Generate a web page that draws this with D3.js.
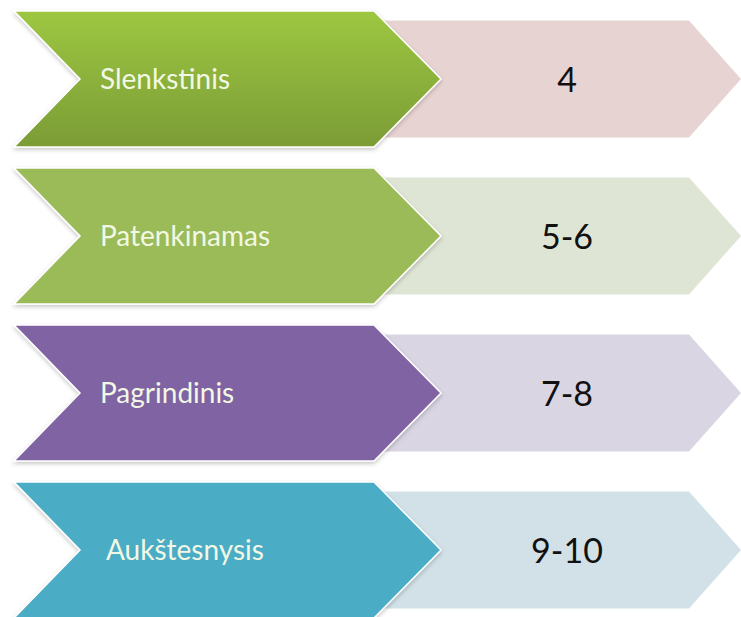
<!DOCTYPE html>
<html>
<head>
<meta charset="utf-8">
<script src="https://cdn.jsdelivr.net/npm/d3@7"></script>
<style>
  html, body { margin: 0; padding: 0; background: #fff; }
  svg { display: block; }
  text { font-family: Lato, 'Open Sans', sans-serif; }
</style>
</head>
<body>
<div id="chart"></div>
<script>
var levels = ['Slenkstinis', 'Patenkinamas', 'Pagrindinis', 'Aukštesnysis']
var grades = ['4', '5-6', '7-8', '9-10']
var darkColors = ['#93bb3d', '#9bbb59', '#8064a2', '#4bacc6']
var lightColors = ['#e8d3d3', '#dfe5d5', '#dad5e3', '#d1e1e7']

var width = 741, height = 617

var svg = d3.select('#chart').append('svg')
  .attr('width', width)
  .attr('height', height)

var defs = svg.append('defs')
var grad = defs.append('linearGradient')
  .attr('id', 'greenGrad')
  .attr('x1', 0).attr('y1', 0).attr('x2', 0).attr('y2', 1)
grad.append('stop').attr('offset', '0%').attr('stop-color', '#9dc741')
grad.append('stop').attr('offset', '100%').attr('stop-color', '#7b9c36')

var shadow = defs.append('filter').attr('id', 'shadow')
  .attr('x', '-5%').attr('y', '-5%').attr('width', '110%').attr('height', '120%')
shadow.append('feDropShadow')
  .attr('dx', 0).attr('dy', 2).attr('stdDeviation', 2)
  .attr('flood-color', '#000').attr('flood-opacity', 0.22)

// row centres
var y = d3.scalePoint().domain(levels).range([79, 550])

// horizontal layout
var darkLeft = 14, darkRight = 374, darkTip = 441, notch = 66, darkHalf = 68
var lightLeft = 380, lightRight = 689, lightTip = 741, lightHalf = 58.5

function chevron (x0, x1, tip, half, cy, notchDepth) {
  var p = d3.path()
  p.moveTo(x0, cy - half)
  p.lineTo(x1, cy - half)
  p.lineTo(tip, cy)
  p.lineTo(x1, cy + half)
  p.lineTo(x0, cy + half)
  if (notchDepth) p.lineTo(x0 + notchDepth, cy)
  p.closePath()
  return p.toString()
}

var rows = svg.selectAll('g.row')
  .data(levels)
  .enter()
  .append('g')
  .attr('class', 'row')

rows.append('path')
  .attr('d', function (d) {
    return chevron(lightLeft, lightRight, lightTip, lightHalf, y(d), 0)
  })
  .style('fill', function (d, i) { return lightColors[i] })

rows.append('path')
  .attr('d', function (d) {
    return chevron(darkLeft, darkRight, darkTip, darkHalf, y(d), notch)
  })
  .style('fill', function (d, i) { return i === 0 ? 'url(#greenGrad)' : darkColors[i] })
  .style('stroke', '#fff')
  .style('stroke-width', 1.5)
  .attr('filter', 'url(#shadow)')

rows.append('text')
  .attr('x', function (d, i) { return i === 3 ? 106 : 100 })
  .attr('y', function (d) { return y(d) })
  .attr('dy', '0.35em')
  .style('font-size', '28px')
  .style('fill', '#f2f8e4')
  .text(function (d) { return d })

rows.append('text')
  .attr('x', 567)
  .attr('y', function (d) { return y(d) })
  .attr('dy', '0.37em')
  .attr('text-anchor', 'middle')
  .style('font-size', '34px')
  .style('fill', '#111')
  .text(function (d, i) { return grades[i] })
</script>
</body>
</html>
